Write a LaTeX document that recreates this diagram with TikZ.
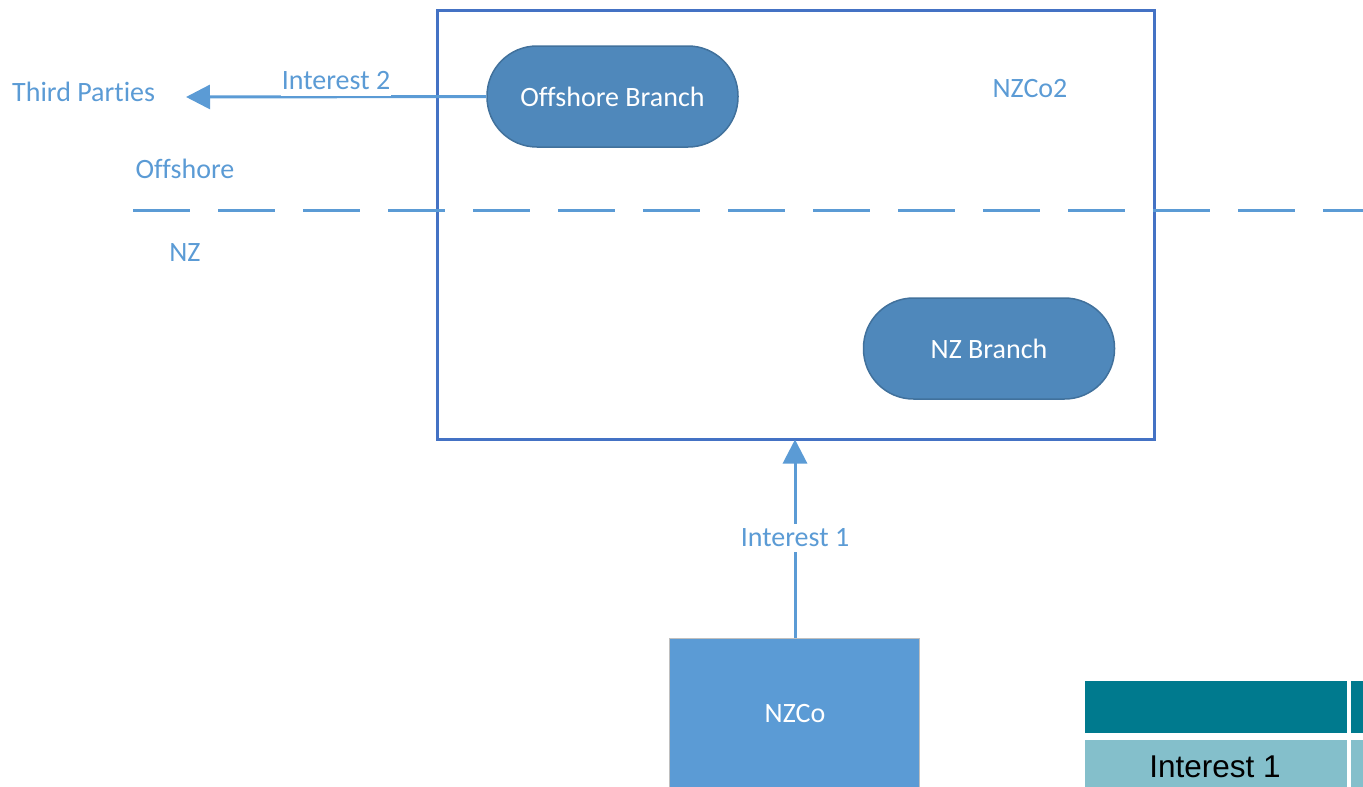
\documentclass[tikz,border=0pt]{standalone}
\usepackage{fontspec}
\setmainfont[Ligatures=NoCommon]{Carlito}
\newfontfamily\arialfont{Liberation Sans}
\usetikzlibrary{arrows.meta}
\definecolor{lineblue}{HTML}{5B9BD5}
\definecolor{frameblue}{HTML}{4472C4}
\definecolor{pillfill}{HTML}{4F88BB}
\definecolor{pillborder}{HTML}{41719C}
\definecolor{boxfill}{HTML}{5B9BD5}
\definecolor{teal}{HTML}{007A8E}
\definecolor{lightteal}{HTML}{84BFCB}
\tikzset{
  lbl/.style={text=lineblue, font=\fontsize{28}{32}\selectfont, inner sep=1pt},
  pill/.style={draw=pillborder, line width=1.5pt, fill=pillfill, rounded corners=50pt,
    minimum width=251pt, minimum height=101pt, inner sep=0pt, text=white,
    font=\fontsize{28}{32}\selectfont},
  conn/.style={draw=lineblue, line width=3pt},
  arr/.style={conn, -{Triangle[length=24pt,width=24pt]}},
}
\begin{document}
\begin{tikzpicture}[x=1pt,y=-1pt]
\useasboundingbox (0,0) rectangle (1363,787);
% container
\node[draw=frameblue, line width=3pt, minimum width=717pt, minimum height=429pt, inner sep=0pt, anchor=north west] (nzco2) at (436,9) {};
\node[lbl] (nzco2lbl) at (1030,89) {NZCo2};
% dashed border line
\coordinate (dashL) at (133,210);
\coordinate (dashR) at (1363,210);
\draw[lineblue, line width=3pt, dash pattern=on 57pt off 28pt] (dashL) -- (dashR);
\node[lbl] (offshore) at (185,169) {Offshore};
\node[lbl] (nz) at (185,253) {NZ};
% branches
\node[pill] (offb) at (612.5,96.5) {Offshore Branch};
\node[pill] (nzb) at (989,348.5) {NZ Branch};
% third parties
\node[lbl, anchor=west] (third) at (11,92) {Third Parties};
\coordinate (tpend) at (186,97);
\draw[arr] (offb.west) -- (tpend);
\node[lbl, fill=white, inner xsep=1pt, inner ysep=6pt] (int2) at (336,81) {Interest 2};
% NZCo
\node[draw=black!25, line width=1pt, fill=boxfill, minimum width=250pt, minimum height=160pt, inner sep=0pt, anchor=north west] (nzco) at (669,638) {};
\node[text=white, font=\fontsize{28}{32}\selectfont] (nzcolbl) at (795,714) {NZCo};
\coordinate (nzcotop) at (795,638);
\coordinate (nzco2bot) at (795,439.5);
\draw[arr] (nzcotop) -- (nzco2bot);
\node[lbl, fill=white, inner ysep=5pt] (int1) at (795,538) {Interest 1};
% table
\fill[teal] (1085,681) rectangle (1347,733);
\fill[teal] (1351,681) rectangle (1363,733);
\fill[lightteal] (1085,740) rectangle (1347,787);
\fill[lightteal] (1351,740) rectangle (1363,787);
\node[font=\arialfont\fontsize{31.5}{36}\selectfont, text=black] (tbl) at (1215,767) {Interest 1};
\end{tikzpicture}
\end{document}
